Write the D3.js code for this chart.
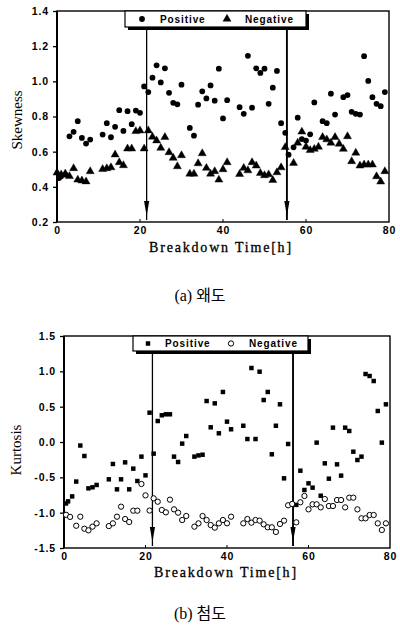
<!DOCTYPE html>
<html><head><meta charset="utf-8">
<script src="https://cdn.jsdelivr.net/npm/d3@7"></script>
<style>
html,body{margin:0;padding:0;background:#fff;}
svg{display:block;}
</style></head>
<body>
<svg id="c" width="400" height="627"></svg>
<script>
// ---------- data ----------
const xTicks = [0, 20, 40, 60, 80];
const skewTicks = [0.2, 0.4, 0.6, 0.8, 1.0, 1.2, 1.4];
const kurtTicks = [-1.5, -1.0, -0.5, 0.0, 0.5, 1.0, 1.5];

const skewPosT = [0.5,1,2,3,4,5,6,7,8,11,12,13,14,15,16,17,18,19,20,21,22,23,24,25,26,27,28,29,30,32,33,34,35,36,37,38,39,40,41,44,45,46,47,48,49,50,51,52,53,54,55,55.8,57,58,59,60,61,62,64,65,66,67,69,70,71,72,73,74,75,76,77,78,79];
const skewPosV = [0.45,0.46,0.47,0.687,0.713,0.773,0.678,0.646,0.669,0.697,0.762,0.682,0.741,0.836,0.718,0.830,0.756,0.834,0.821,0.971,0.939,1.021,1.091,0.994,1.074,0.935,0.878,0.869,0.981,0.735,0.691,0.867,0.943,0.903,0.977,0.890,1.072,0.789,0.893,0.853,0.815,1.145,0.850,1.074,1.048,1.072,0.872,0.964,1.059,0.762,0.707,0.583,0.625,0.793,0.672,0.663,0.699,0.880,0.773,0.762,0.930,0.811,0.910,0.922,0.827,0.815,0.811,1.143,1.002,0.910,0.872,0.859,0.939];

const skewNegT = [0,1,2,3,4,5,6,7,8,11,12,13,14,15,16,17,18,19,20,21,22,23,24,25,26,27,28,29,30,32,33,34,35,36,37,38,39,40,41,44,45,46,47,48,49,50,51,52,53,54,55,57,58,59,60,61,62,63,64,65,66,67,68,69,70,71,72,73,74,75,76,77,78,79];
const skewNegV = [0.48,0.47,0.475,0.46,0.505,0.44,0.435,0.43,0.488,0.50,0.505,0.51,0.583,0.539,0.522,0.617,0.617,0.716,0.72,0.617,0.72,0.684,0.663,0.621,0.682,0.596,0.564,0.516,0.579,0.474,0.474,0.533,0.59,0.507,0.474,0.488,0.44,0.499,0.539,0.472,0.507,0.493,0.539,0.52,0.478,0.465,0.47,0.438,0.482,0.51,0.625,0.535,0.65,0.713,0.627,0.608,0.615,0.627,0.682,0.669,0.65,0.682,0.644,0.615,0.687,0.545,0.593,0.52,0.526,0.526,0.526,0.459,0.429,0.488];

const kurtPosT = [0.5,1,2,3,4,5,6,7,8,11,12,13,14,15,16,17,18,19,20,21,22,23,24,25,26,27,28,29,30,32,33,34,35,36,37,38,39,40,41,44,45,46,47,48,49,50,51,52,53,54,55,56,57,58,59,60,61,62,63,64,65,66,67,68,69,70,71,72,73,74,75,76,77,78,79];
const kurtPosV = [-0.87,-0.84,-0.77,-0.56,-0.05,-0.198,-0.656,-0.641,-0.608,-0.528,-0.311,-0.67,-0.528,-0.288,-0.67,-0.377,-0.552,-0.207,-0.472,0.415,-0.165,0.297,0.378,0.392,0.392,-0.207,-0.283,-0.023,0.085,-0.207,-0.19,-0.18,0.58,0.208,0.547,0.123,0.708,0.288,0.18,0.23,0.042,1.047,0.042,0.995,0.594,0.708,-0.174,0.23,0.533,-0.514,-0.028,-0.877,-0.89,-0.406,-0.679,-0.585,-0.646,-0.009,-0.76,-0.302,-0.519,0.203,-0.316,-0.476,0.203,0.156,-0.137,-0.255,-0.207,0.962,0.934,0.863,0.439,-0.009,0.533];

const kurtNegT = [0.5,1.5,3,4,5,6,7,8,11,12,13,14,15,16,17,18,19,20,21,22,23,24,25,26,27,28,29,30,32,33,34,35,36,37,38,39,40,41,44,45,46,47,48,49,50,51,52,53,54,55,56,57,58,59,60,61,62,63,64,65,66,67,68,69,70,71,72,73,74,75,76,77,78,79];
const kurtNegV = [-1.03,-1.06,-1.185,-1.057,-1.227,-1.25,-1.198,-1.151,-1.19,-1.151,-1.057,-0.915,-1.09,-1.132,-0.972,-0.972,-0.594,-0.755,-0.97,-0.797,-0.845,-0.962,-0.995,-0.816,-0.953,-1.0,-1.104,-1.047,-1.198,-1.151,-1.047,-1.104,-1.175,-1.212,-1.151,-1.104,-1.15,-1.057,-1.151,-1.09,-1.142,-1.104,-1.113,-1.165,-1.207,-1.207,-1.273,-1.16,-1.113,-0.896,-0.877,-1.137,-0.853,-0.764,-0.953,-0.882,-0.882,-0.925,-0.807,-0.906,-0.906,-0.821,-0.821,-0.925,-0.788,-0.788,-0.953,-1.08,-1.08,-1.033,-1.033,-1.151,-1.245,-1.151];

const skewBreaks = [21.6, 55.4];
const kurtBreaks = [21.7, 56.2];
const legendLabels = ["Positive", "Negative"];

// ---------- drawing ----------
const svg = d3.select("#c");
const tickFont = "'Liberation Sans', Arial, sans-serif";
const serif = "'Liberation Serif', 'DejaVu Serif', serif";

function panel(o) {
  const x = d3.scaleLinear().domain([0, 80]).range([o.x0, o.x1]);
  const y = d3.scaleLinear().domain(o.ydom).range([o.y1, o.y0]);
  const g = svg.append("g");

  const ya = g.append("g").attr("transform", `translate(${o.x0},0)`)
    .call(d3.axisLeft(y).tickValues(o.yTicks).tickSize(4).tickPadding(4).tickFormat(d3.format(".1f")));
  ya.select(".domain").remove();
  ya.selectAll("text").attr("font-family", tickFont).attr("font-weight", "bold")
    .attr("font-size", 10.5).attr("letter-spacing", "0.9px").attr("fill", "#000")
    .text(d => d3.format(".1f")(d).replace("−", "-"));
  ya.selectAll("line").attr("stroke", "#000").attr("stroke-width", 1.3);

  const xa = g.append("g").attr("transform", `translate(0,${o.y1})`)
    .call(d3.axisBottom(x).tickValues(xTicks).tickSize(0).tickPadding(5));
  xa.select(".domain").remove();
  xa.selectAll("text").attr("font-family", tickFont).attr("font-weight", "bold")
    .attr("font-size", 10.5).attr("letter-spacing", "0.9px").attr("fill", "#000");
  g.selectAll(".xt").data(xTicks.slice(1, -1)).enter().append("line")
    .attr("x1", d => x(d)).attr("x2", d => x(d)).attr("y1", o.y1).attr("y2", o.y1 - 3)
    .attr("stroke", "#000").attr("stroke-width", 1);

  g.append("rect").attr("x", o.x0).attr("y", o.y0).attr("width", o.x1 - o.x0).attr("height", o.y1 - o.y0)
    .attr("fill", "none").attr("stroke", "#000").attr("stroke-width", 1.4);
  g.append("line").attr("x1", o.x0).attr("x2", o.x0).attr("y1", o.y0).attr("y2", o.y1)
    .attr("stroke", "#000").attr("stroke-width", 2);

  o.breaks.forEach((b, i) => {
    const bx = x(b);
    g.append("line").attr("x1", bx).attr("x2", bx).attr("y1", o.ly1).attr("y2", o.y1 - 2)
      .attr("stroke", "#000").attr("stroke-width", i === 0 ? 1.3 : 1.9);
    const tip = o.y1 - 6, hl = 15;
    g.append("path").attr("d", `M${bx - 2.6},${tip - hl} L${bx + 2.6},${tip - hl} L${bx},${tip} Z`)
      .attr("fill", "#000");
  });

  const s1 = d3.symbol().type(o.sym1).size(o.size1);
  g.selectAll(".p1").data(o.t1.map((t, i) => [t, o.v1[i]])).enter().append("path")
    .attr("transform", d => `translate(${x(d[0])},${y(d[1])})`).attr("d", s1)
    .attr("fill", "#000");
  const s2 = d3.symbol().type(o.sym2).size(o.size2);
  g.selectAll(".p2").data(o.t2.map((t, i) => [t, o.v2[i]])).enter().append("path")
    .attr("transform", d => `translate(${x(d[0])},${y(d[1])})`).attr("d", s2)
    .attr("fill", o.open2 ? "#fff" : "#000").attr("stroke", "#000").attr("stroke-width", o.open2 ? 1 : 0.4);

  const L = o.legend;
  g.append("rect").attr("x", L.x0 + 3).attr("y", L.y0 + 3).attr("width", L.x1 - L.x0).attr("height", L.y1 - L.y0).attr("fill", "#000");
  g.append("rect").attr("x", L.x0).attr("y", L.y0).attr("width", L.x1 - L.x0).attr("height", L.y1 - L.y0)
    .attr("fill", "#fff").attr("stroke", "#000").attr("stroke-width", 1.2);
  const ly = (L.y0 + L.y1) / 2;
  g.append("path").attr("transform", `translate(${L.m1},${ly})`).attr("d", d3.symbol().type(o.sym1).size(o.size1)()).attr("fill", "#000");
  g.append("path").attr("transform", `translate(${L.m2},${ly})`).attr("d", d3.symbol().type(o.sym2).size(o.size2)())
    .attr("fill", o.open2 ? "#fff" : "#000").attr("stroke", "#000").attr("stroke-width", o.open2 ? 1 : 0.4);
  [[L.t1, legendLabels[0]], [L.t2, legendLabels[1]]].forEach(([tx, lab]) => {
    g.append("text").attr("x", tx).attr("y", ly + 3.6).text(lab)
      .attr("font-family", tickFont).attr("font-weight", "bold").attr("font-size", 10)
      .attr("letter-spacing", "0.9px").attr("fill", "#000");
  });

  g.append("text").attr("x", o.xtX).attr("y", o.xtY).attr("text-anchor", "middle")
    .attr("font-family", serif).attr("font-size", 14).attr("letter-spacing", "1.8px")
    .attr("stroke", "#000").attr("stroke-width", 0.3).text("Breakdown Time[h]");
  g.append("text").attr("transform", `translate(${o.ytX},${o.ytY}) rotate(-90)`).attr("text-anchor", "middle")
    .attr("font-family", serif).attr("font-size", 15).text(o.ytitle);
  g.append("text").attr("x", 200).attr("y", o.capY).attr("text-anchor", "middle")
    .attr("font-family", "'Liberation Serif', 'Noto Sans CJK KR', serif").attr("font-size", 16).text(o.caption);
}

panel({
  x0: 57, x1: 389, y0: 11, y1: 222, ydom: [0.2, 1.4], yTicks: skewTicks, breaks: skewBreaks, ly1: 28,
  t1: skewPosT, v1: skewPosV, t2: skewNegT, v2: skewNegV,
  sym1: d3.symbolCircle, size1: 26, sym2: d3.symbolTriangle, size2: 28, open2: false,
  legend: { x0: 125, x1: 306, y0: 11, y1: 27, m1: 142, t1: 160, m2: 227, t2: 245 },
  xtX: 221, xtY: 252, ytX: 22, ytY: 120, ytitle: "Skewness", capY: 301, caption: "(a) 왜도"
});

panel({
  x0: 64, x1: 390, y0: 336, y1: 548, ydom: [-1.5, 1.5], yTicks: kurtTicks, breaks: kurtBreaks, ly1: 352,
  t1: kurtPosT, v1: kurtPosV, t2: kurtNegT, v2: kurtNegV,
  sym1: d3.symbolSquare, size1: 20, sym2: d3.symbolCircle, size2: 22, open2: true,
  legend: { x0: 133, x1: 308, y0: 336, y1: 351, m1: 148, t1: 165, m2: 231, t2: 249 },
  xtX: 226, xtY: 577, ytX: 21, ytY: 450, ytitle: "Kurtosis", capY: 619, caption: "(b) 첨도"
});
</script>
</body></html>
